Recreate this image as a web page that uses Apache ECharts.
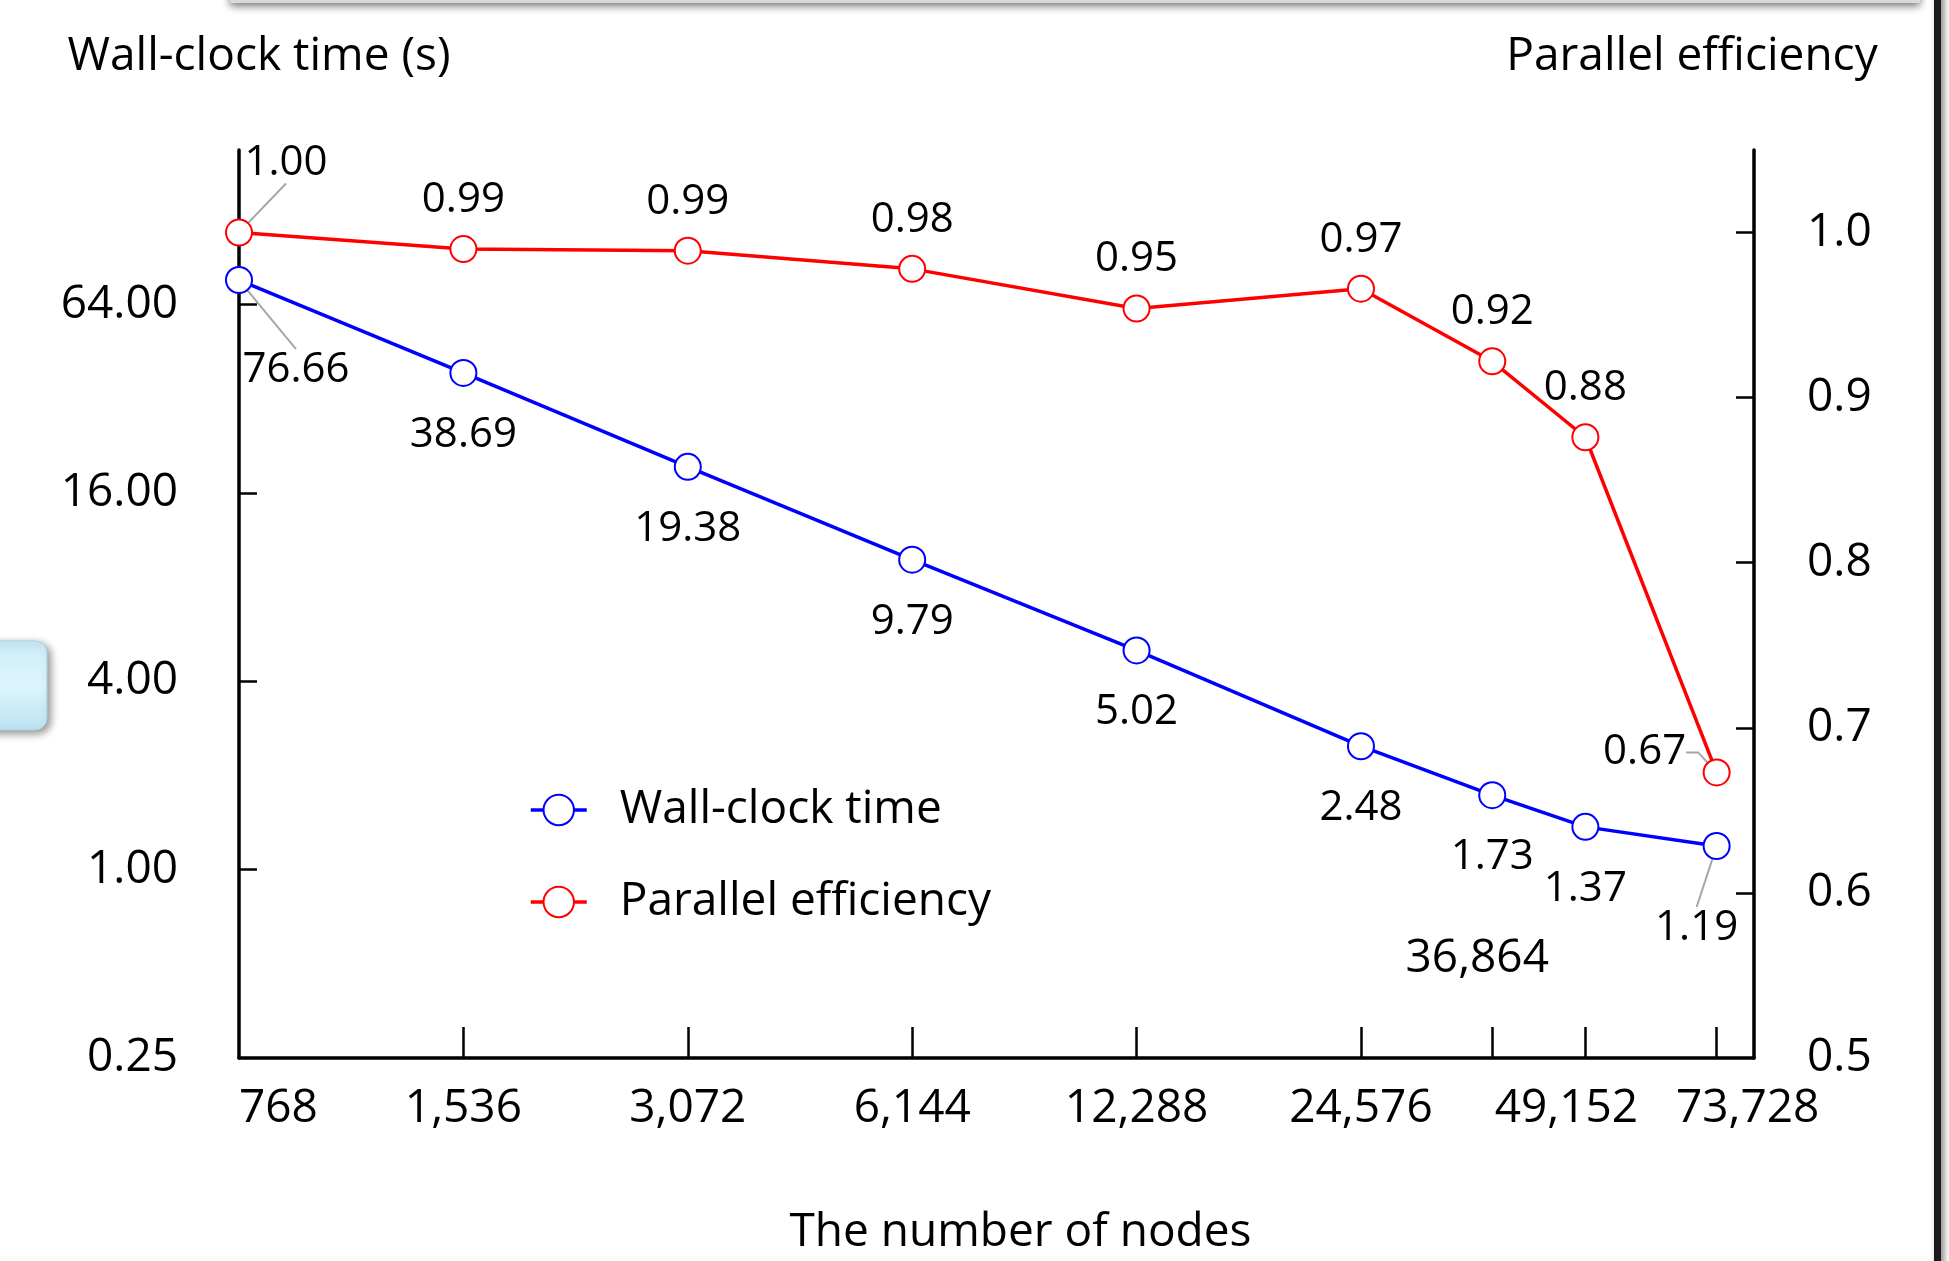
<!DOCTYPE html>
<html>
<head>
<meta charset="utf-8">
<script src="https://cdn.jsdelivr.net/npm/echarts@6/dist/echarts.min.js"></script>
<style>
  html, body { margin: 0; padding: 0; background: #fff; }
  #chart { width: 1949px; height: 1261px; }
</style>
</head>
<body>
<div id="chart"></div>
<script>
// node counts on the x axis (log2 spacing)
const nodes = [768, 1536, 3072, 6144, 12288, 24576, 36864, 49152, 73728];
const wallTime = [76.66, 38.69, 19.38, 9.79, 5.02, 2.48, 1.73, 1.37, 1.19];
const efficiency = [1.00, 0.99, 0.989, 0.978, 0.954, 0.966, 0.922, 0.876, 0.673];

const xLabelNodes = [768, 1536, 3072, 6144, 12288, 24576, 49152, 73728];
const xTickNodes = [1536, 3072, 6144, 12288, 24576, 36864, 49152, 73728];
const timeLabels = [0.25, 1, 4, 16, 64];
const timeTicks = [1, 4, 16, 64];
const effLabels = [0.5, 0.6, 0.7, 0.8, 0.9, 1.0];
const effTicks = [0.6, 0.7, 0.8, 0.9, 1.0];

const X_MAX = 82750;   // right end of the node axis
const FONT = 'Open Sans';
const last = nodes.length - 1;

const chart = echarts.init(document.getElementById('chart'));

function fmtNode(v) {
  return Math.round(v).toLocaleString('en-US');
}

// x labels: the last two are nudged apart like in the original
function xLabel(v) {
  const n = Math.round(v);
  if (n > nodes[last]) return ' ';
  if (n === nodes[last - 1]) return '{l|' + fmtNode(n) + '}';
  if (n === nodes[last]) return '{r|' + fmtNode(n) + '}';
  return fmtNode(n);
}

// move a label to a fixed offset from its point (these get a leader line)
function shiftLabel(p, ox, oy) {
  return {
    x: p.rect.x + p.rect.width / 2 + ox,
    y: p.rect.y + p.rect.height / 2 + oy,
    align: 'center',
    verticalAlign: 'middle'
  };
}

// leaders: { index: extra labelLine options }
function buildData(values, leaders) {
  return values.map((v, i) => {
    const item = { value: [nodes[i], v] };
    if (leaders[i]) item.labelLine = Object.assign({ show: true }, leaders[i]);
    return item;
  });
}

const leaderStyle = { color: '#a6a6a6', width: 2 };

chart.setOption({
  animation: false,
  textStyle: { fontFamily: FONT, color: '#000' },
  grid: { left: 239, right: 195, top: 150, bottom: 202 },
  legend: {
    orient: 'vertical',
    left: 529,
    top: 787,
    padding: 0,
    itemWidth: 56,
    itemHeight: 38,
    itemGap: 46,
    lineStyle: { width: 3.5 },
    itemStyle: { borderWidth: 3.5 },
    textStyle: { fontSize: 46, fontFamily: FONT, color: '#000', padding: [0, 0, 0, 28] },
    data: ['Wall-clock time', 'Parallel efficiency']
  },
  xAxis: {
    type: 'log',
    logBase: 2,
    min: 768,
    max: X_MAX,
    name: 'The number of nodes',
    nameLocation: 'middle',
    nameGap: 152,
    nameTextStyle: { fontSize: 46, fontFamily: FONT, color: '#000', padding: [0, 0, 0, 48] },
    axisLine: { lineStyle: { color: '#000', width: 3.5 } },
    axisTick: { customValues: xTickNodes.concat([X_MAX]), inside: true, length: 31, lineStyle: { color: '#000', width: 2.5 } },
    axisLabel: {
      customValues: xLabelNodes.concat([X_MAX]),
      formatter: xLabel,
      fontSize: 46,
      margin: 28,
      color: '#000',
      alignMinLabel: 'left',
      hideOverlap: false,
      rich: {
        l: { fontSize: 46, fontFamily: FONT, color: '#000', padding: [0, 38, 0, 0] },
        r: { fontSize: 46, fontFamily: FONT, color: '#000', padding: [0, 0, 0, 62] }
      }
    },
    splitLine: { show: false },
    minorTick: { show: false }
  },
  yAxis: [
    {
      type: 'log',
      logBase: 4,
      min: 0.25,
      max: 199.6,
      position: 'left',
      name: 'Wall-clock time (s)',
      nameLocation: 'end',
      nameGap: 70,
      nameTextStyle: { fontSize: 46, fontFamily: FONT, color: '#000', padding: [0, 0, 0, 40] },
      axisLine: { show: true, lineStyle: { color: '#000', width: 3.5 } },
      axisTick: { customValues: timeTicks, inside: true, length: 18, lineStyle: { color: '#000', width: 2.5 } },
      axisLabel: {
        customValues: timeLabels,
        formatter: v => v.toFixed(2),
        fontSize: 46,
        margin: 61,
        color: '#000'
      },
      splitLine: { show: false }
    },
    {
      type: 'value',
      min: 0.5,
      max: 1.05,
      position: 'right',
      name: 'Parallel efficiency',
      nameLocation: 'end',
      nameGap: 70,
      nameTextStyle: { fontSize: 46, fontFamily: FONT, color: '#000', padding: [0, 124, 0, 0] },
      axisLine: { show: true, lineStyle: { color: '#000', width: 3.5 } },
      axisTick: { customValues: effTicks, inside: true, length: 18, lineStyle: { color: '#000', width: 2.5 } },
      axisLabel: {
        customValues: effLabels,
        formatter: v => v.toFixed(1),
        fontSize: 46,
        margin: 53,
        color: '#000'
      },
      splitLine: { show: false }
    }
  ],
  series: [
    {
      name: 'Wall-clock time',
      type: 'line',
      yAxisIndex: 0,
      data: buildData(wallTime, { 0: {}, [last]: {} }),
      symbol: 'emptyCircle',
      symbolSize: 26,
      color: '#0000ff',
      lineStyle: { color: '#0000ff', width: 3.5 },
      itemStyle: { color: '#0000ff', borderWidth: 3.8 },
      label: {
        show: true,
        position: 'bottom',
        distance: 27,
        fontSize: 42,
        color: '#000',
        formatter: p => p.value[1].toFixed(2)
      },
      labelLine: { show: false, lineStyle: leaderStyle },
      labelLayout: p => {
        if (p.dataIndex === 0) return shiftLabel(p, 57, 90);
        if (p.dataIndex === last) return shiftLabel(p, -20, 82);
        return {};
      }
    },
    {
      name: 'Parallel efficiency',
      type: 'line',
      yAxisIndex: 1,
      data: buildData(efficiency, { 0: {}, [last]: { length2: 12 } }),
      symbol: 'emptyCircle',
      symbolSize: 26,
      color: '#ff0000',
      lineStyle: { color: '#ff0000', width: 3.5 },
      itemStyle: { color: '#ff0000', borderWidth: 3.8 },
      label: {
        show: true,
        position: 'top',
        distance: 14,
        fontSize: 42,
        color: '#000',
        formatter: p => p.value[1].toFixed(2)
      },
      labelLine: { show: false, lineStyle: leaderStyle },
      labelLayout: p => {
        if (p.dataIndex === 0) return shiftLabel(p, 47, -70);
        if (p.dataIndex === last) return shiftLabel(p, -72, -20);
        return {};
      }
    }
  ]
});

// the 36,864 tick label sits above the axis in the original, place it from the axis scale
const lx = chart.convertToPixel({ xAxisIndex: 0 }, nodes[6]);
const ly = chart.convertToPixel({ yAxisIndex: 0 }, timeLabels[0]);

chart.setOption({
  graphic: [
    // slide decorations around the figure
    {
      type: 'rect',
      shape: { x: 230, y: -30, width: 1690, height: 33 },
      style: { fill: '#d9d9d9', shadowBlur: 8, shadowOffsetY: 3, shadowColor: 'rgba(0,0,0,0.55)' }
    },
    {
      type: 'rect',
      shape: { x: 1934, y: -10, width: 7, height: 1290 },
      style: { fill: '#1a1a1a', shadowBlur: 6, shadowOffsetX: 3, shadowColor: 'rgba(0,0,0,0.5)' }
    },
    {
      type: 'rect',
      shape: { x: -20, y: 641, width: 67, height: 89, r: 12 },
      style: {
        fill: new echarts.graphic.LinearGradient(0, 0, 0, 1, [
          { offset: 0, color: '#cdeef9' },
          { offset: 0.5, color: '#dcf5fd' },
          { offset: 1, color: '#bfe3f2' }
        ]),
        stroke: '#a9d3e6',
        lineWidth: 1,
        shadowBlur: 8,
        shadowOffsetX: 3,
        shadowOffsetY: 3,
        shadowColor: 'rgba(0,0,0,0.45)'
      }
    },
    {
      type: 'text',
      x: lx - 15,
      y: ly - 99,
      style: {
        text: fmtNode(nodes[6]),
        font: '46px ' + FONT,
        fill: '#000',
        align: 'center',
        verticalAlign: 'middle'
      }
    }
  ]
});
</script>
</body>
</html>
